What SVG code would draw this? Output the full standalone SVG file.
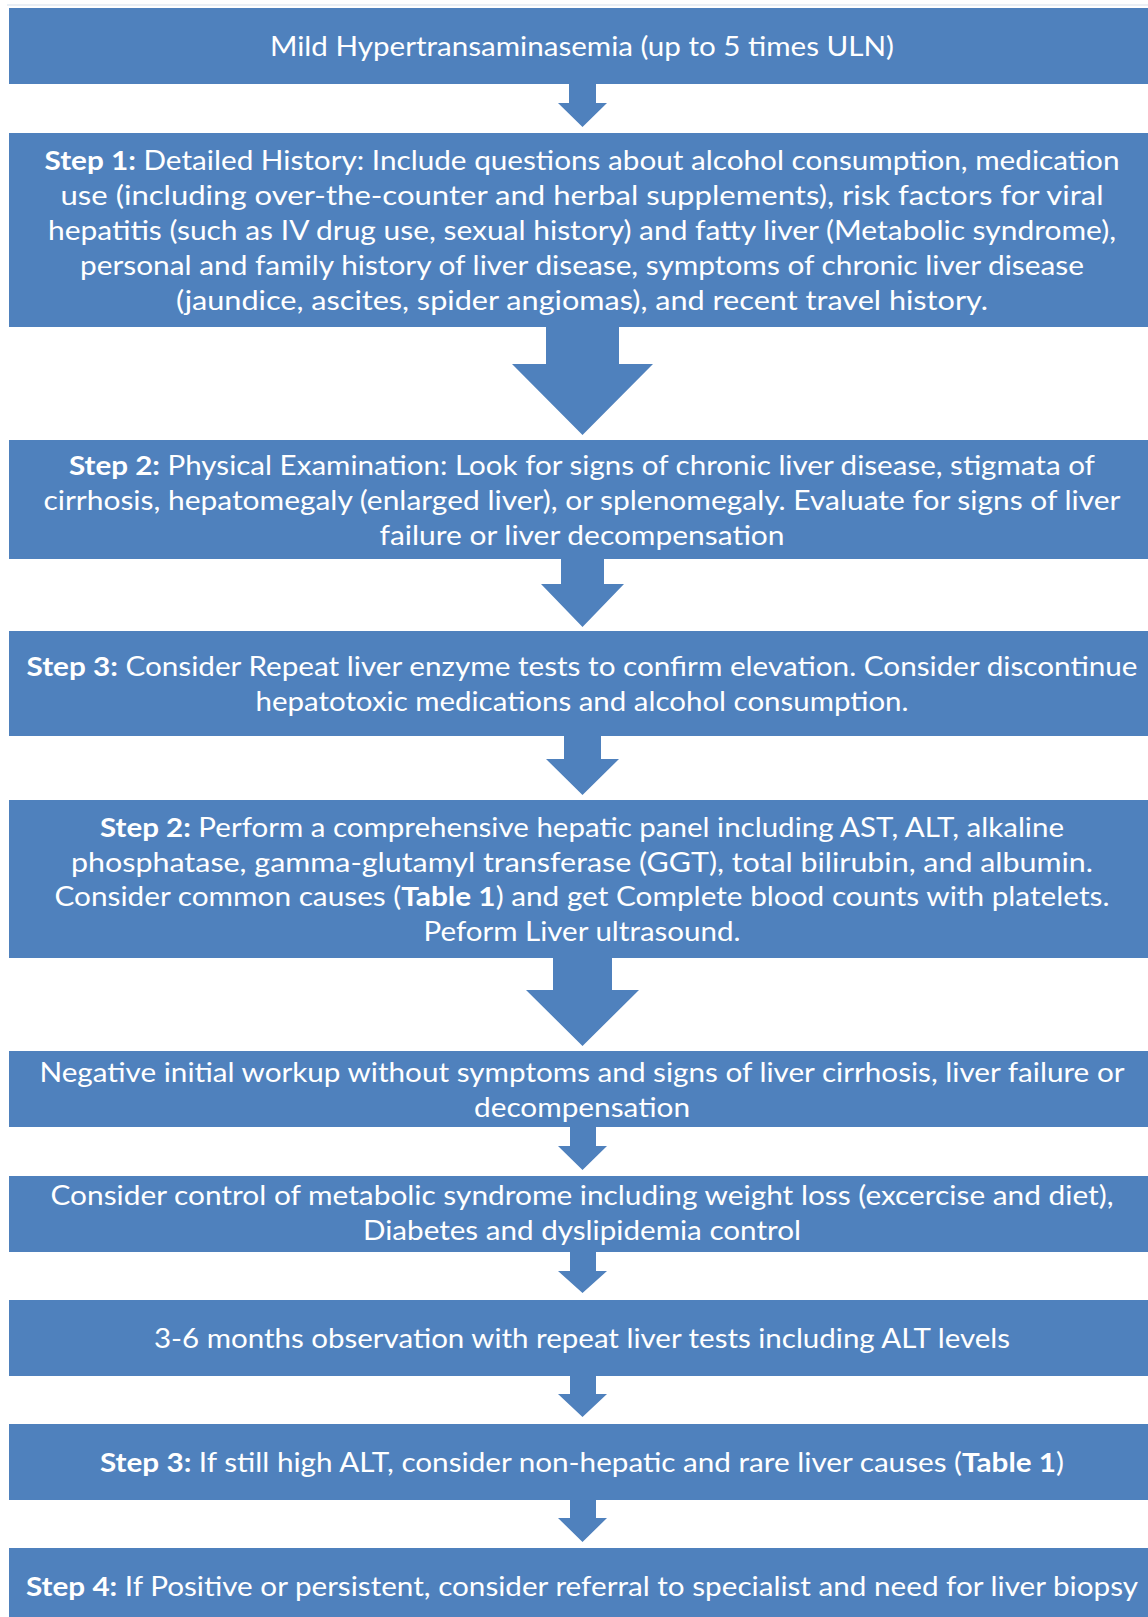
<svg xmlns="http://www.w3.org/2000/svg" width="1148" height="1617" viewBox="0 0 1148 1617">
<style>
.box{fill:#4F81BD}
.arr{fill:#4F81BD}
text{font-family:Lato,"Open Sans","Liberation Sans",sans-serif;font-size:27px;fill:#ffffff;text-anchor:middle}
.b{font-weight:bold}
</style>
<rect x="0" y="0" width="1148" height="1617" fill="#ffffff"/>
<line x1="7" y1="5" x2="1148" y2="5" stroke="#e3eaf2" stroke-width="1.5"/>
<g id="connectors">
<polygon class="arr" points="569,84 596,84 596,103 607,103 582.5,127 558,103 569,103"/>
<polygon class="arr" points="546,327 619,327 619,364 653,364 582.5,435 512,364 546,364"/>
<polygon class="arr" points="561,559 604,559 604,584 624,584 582.5,627 541,584 561,584"/>
<polygon class="arr" points="564,736 601,736 601,759 619,759 582.5,795 546,759 564,759"/>
<polygon class="arr" points="553,958 612,958 612,990 639,990 582.5,1046 526,990 553,990"/>
<polygon class="arr" points="570,1127 596,1127 596,1146 607,1146 582.5,1170 558,1146 570,1146"/>
<polygon class="arr" points="570,1252 596,1252 596,1271 607,1271 582.5,1293 558,1271 570,1271"/>
<polygon class="arr" points="570,1376 596,1376 596,1394 607,1394 582.5,1417 558,1394 570,1394"/>
<polygon class="arr" points="570,1500 596,1500 596,1518 607,1518 582.5,1542 558,1518 570,1518"/>
</g>
<g id="n1">
<rect class="box" x="9" y="8" width="1146" height="76"/>
<text x="582" y="56" textLength="624" lengthAdjust="spacingAndGlyphs">Mild Hypertransaminasemia (up to 5 times ULN)</text>
</g>
<g id="n2">
<rect class="box" x="9" y="133" width="1146" height="194"/>
<text x="582" y="170" textLength="1075" lengthAdjust="spacingAndGlyphs"><tspan class="b">Step 1:</tspan> Detailed History: Include questions about alcohol consumption, medication</text>
<text x="582" y="205" textLength="1043" lengthAdjust="spacingAndGlyphs">use (including over-the-counter and herbal supplements), risk factors for viral</text>
<text x="582" y="240" textLength="1068" lengthAdjust="spacingAndGlyphs">hepatitis (such as IV drug use, sexual history) and fatty liver (Metabolic syndrome),</text>
<text x="582" y="275" textLength="1004" lengthAdjust="spacingAndGlyphs">personal and family history of liver disease, symptoms of chronic liver disease</text>
<text x="582" y="310" textLength="812" lengthAdjust="spacingAndGlyphs">(jaundice, ascites, spider angiomas), and recent travel history.</text>
</g>
<g id="n3">
<rect class="box" x="9" y="440" width="1146" height="119"/>
<text x="582" y="475" textLength="1026" lengthAdjust="spacingAndGlyphs"><tspan class="b">Step 2:</tspan> Physical Examination: Look for signs of chronic liver disease, stigmata of</text>
<text x="582" y="510" textLength="1077" lengthAdjust="spacingAndGlyphs">cirrhosis, hepatomegaly (enlarged liver), or splenomegaly. Evaluate for signs of liver</text>
<text x="582" y="545" textLength="405" lengthAdjust="spacingAndGlyphs">failure or liver decompensation</text>
</g>
<g id="n4">
<rect class="box" x="9" y="631" width="1146" height="105"/>
<text x="582" y="676" textLength="1111" lengthAdjust="spacingAndGlyphs"><tspan class="b">Step 3:</tspan> Consider Repeat liver enzyme tests to confirm elevation. Consider discontinue</text>
<text x="582" y="711" textLength="653" lengthAdjust="spacingAndGlyphs">hepatotoxic medications and alcohol consumption.</text>
</g>
<g id="n5">
<rect class="box" x="9" y="800" width="1146" height="158"/>
<text x="582" y="837" textLength="964" lengthAdjust="spacingAndGlyphs"><tspan class="b">Step 2:</tspan> Perform a comprehensive hepatic panel including AST, ALT, alkaline</text>
<text x="582" y="872" textLength="1022" lengthAdjust="spacingAndGlyphs">phosphatase, gamma-glutamyl transferase (GGT), total bilirubin, and albumin.</text>
<text x="582" y="906" textLength="1055" lengthAdjust="spacingAndGlyphs">Consider common causes (<tspan class="b">Table 1</tspan>) and get Complete blood counts with platelets.</text>
<text x="582" y="941" textLength="317" lengthAdjust="spacingAndGlyphs">Peform Liver ultrasound.</text>
</g>
<g id="n6">
<rect class="box" x="9" y="1051" width="1146" height="76"/>
<text x="582" y="1082" textLength="1085" lengthAdjust="spacingAndGlyphs">Negative initial workup without symptoms and signs of liver cirrhosis, liver failure or</text>
<text x="582" y="1117" textLength="216" lengthAdjust="spacingAndGlyphs">decompensation</text>
</g>
<g id="n7">
<rect class="box" x="9" y="1176" width="1146" height="76"/>
<text x="582" y="1205" textLength="1063" lengthAdjust="spacingAndGlyphs">Consider control of metabolic syndrome including weight loss (excercise and diet),</text>
<text x="582" y="1240" textLength="438" lengthAdjust="spacingAndGlyphs">Diabetes and dyslipidemia control</text>
</g>
<g id="n8">
<rect class="box" x="9" y="1300" width="1146" height="76"/>
<text x="582" y="1348" textLength="856" lengthAdjust="spacingAndGlyphs">3-6 months observation with repeat liver tests including ALT levels</text>
</g>
<g id="n9">
<rect class="box" x="9" y="1424" width="1146" height="76"/>
<text x="582" y="1472" textLength="964" lengthAdjust="spacingAndGlyphs"><tspan class="b">Step 3:</tspan> If still high ALT, consider non-hepatic and rare liver causes (<tspan class="b">Table 1</tspan>)</text>
</g>
<g id="n10">
<rect class="box" x="9" y="1548" width="1146" height="76"/>
<text x="582" y="1596" textLength="1112" lengthAdjust="spacingAndGlyphs"><tspan class="b">Step 4:</tspan> If Positive or persistent, consider referral to specialist and need for liver biopsy</text>
</g>
</svg>
